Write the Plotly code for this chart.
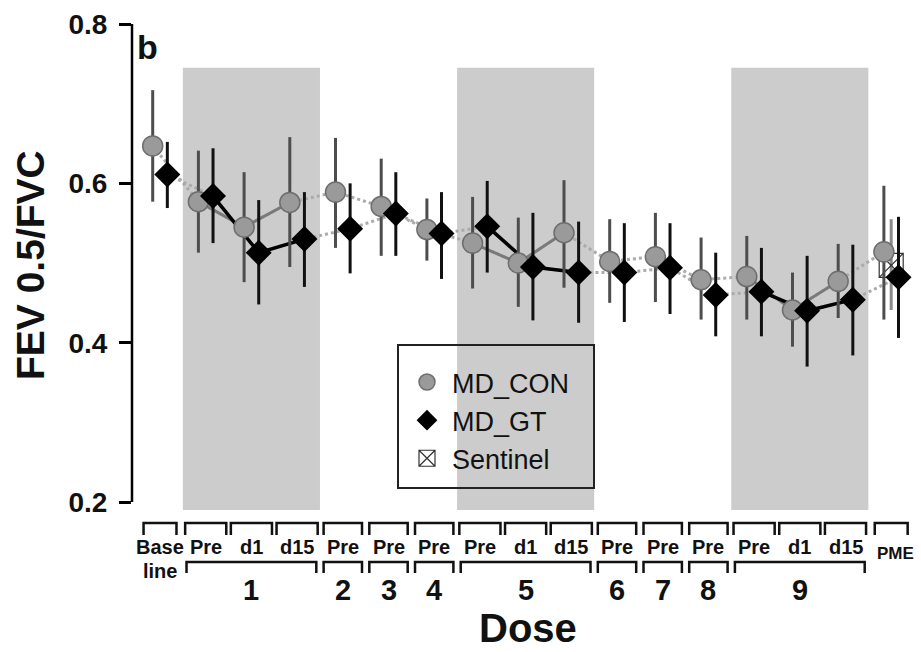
import plotly.graph_objects as go

# ---------------- data ----------------
time_labels = ["Base", "Pre", "d1", "d15", "Pre", "Pre", "Pre", "Pre", "d1", "d15",
               "Pre", "Pre", "Pre", "Pre", "d1", "d15", "PME"]
dose_labels = ["1", "2", "3", "4", "5", "6", "7", "8", "9"]
dose_start = [1, 4, 5, 6, 7, 10, 11, 12, 13]
dose_end = [3, 4, 5, 6, 9, 10, 11, 12, 15]
shaded_doses = ["1", "5", "9"]

con_mean = [0.647, 0.577, 0.545, 0.576, 0.589, 0.571, 0.542, 0.525, 0.500, 0.538,
            0.502, 0.508, 0.479, 0.483, 0.441, 0.477, 0.514]
con_upper = [0.717, 0.641, 0.614, 0.658, 0.657, 0.631, 0.581, 0.583, 0.557, 0.604,
             0.555, 0.563, 0.532, 0.534, 0.488, 0.524, 0.597]
con_lower = [0.577, 0.513, 0.476, 0.495, 0.519, 0.509, 0.503, 0.468, 0.445, 0.469,
             0.450, 0.451, 0.429, 0.429, 0.395, 0.431, 0.429]

gt_mean = [0.611, 0.584, 0.513, 0.530, 0.543, 0.562, 0.537, 0.546, 0.495, 0.488,
           0.488, 0.494, 0.460, 0.464, 0.440, 0.454, 0.482]
gt_upper = [0.652, 0.644, 0.579, 0.589, 0.600, 0.614, 0.589, 0.603, 0.563, 0.552,
            0.550, 0.550, 0.513, 0.519, 0.509, 0.523, 0.558]
gt_lower = [0.569, 0.525, 0.448, 0.470, 0.487, 0.509, 0.480, 0.488, 0.428, 0.425,
            0.426, 0.436, 0.408, 0.408, 0.370, 0.384, 0.406]

sentinel_index = [16]
sentinel_mean = [0.497]
sentinel_upper = [0.555]
sentinel_lower = [0.441]

# ---------------- layout geometry ----------------
W, H = 921, 652
PL, PR, PT, PB = 132, 921, 24, 510
n = len(time_labels)
XR = [-0.613, 16.652]
YR = [0.19, 0.8]
OFF = 0.16
FONT = "Liberation Sans, Arial, sans-serif"


def xp(px):
    return (px - PL) / (PR - PL)


def yp(py):
    return (PB - py) / (PB - PT)


idx = list(range(n))
x_con = [i - OFF for i in idx]
x_gt = [i + OFF for i in idx]

group_members = [list(range(s, e + 1)) for s, e in zip(dose_start, dose_end)]
multi_groups = [g for g in group_members if len(g) > 1]


def segs(xs, ys):
    ox, oy = [], []
    for g in multi_groups:
        for i in g:
            ox.append(xs[i]); oy.append(ys[i])
        ox.append(None); oy.append(None)
    return ox, oy


fig = go.Figure()

# dotted connectors
fig.add_trace(go.Scatter(x=x_con, y=con_mean, mode="lines", showlegend=False,
                         line=dict(color="#ababab", width=3, dash="dot"), hoverinfo="skip"))
fig.add_trace(go.Scatter(x=x_gt, y=gt_mean, mode="lines", showlegend=False,
                         line=dict(color="#ababab", width=3, dash="dot"), hoverinfo="skip"))
# solid within dose groups
sx, sy = segs(x_con, con_mean)
fig.add_trace(go.Scatter(x=sx, y=sy, mode="lines", showlegend=False,
                         line=dict(color="#7a7a7a", width=3), hoverinfo="skip"))
sx, sy = segs(x_gt, gt_mean)
fig.add_trace(go.Scatter(x=sx, y=sy, mode="lines", showlegend=False,
                         line=dict(color="#000000", width=3.5), hoverinfo="skip"))

# sentinel
fig.add_trace(go.Scatter(
    x=sentinel_index, y=sentinel_mean, mode="markers", name="Sentinel", showlegend=False,
    marker=dict(symbol="square-x-open", size=24, color="#333333", line=dict(width=1.2)),
    error_y=dict(type="data", symmetric=False,
                 array=[u - m for u, m in zip(sentinel_upper, sentinel_mean)],
                 arrayminus=[m - l for m, l in zip(sentinel_mean, sentinel_lower)],
                 color="#8a8a8a", thickness=3, width=0)))

# MD_CON
fig.add_trace(go.Scatter(
    x=x_con, y=con_mean, mode="markers", name="MD_CON", showlegend=False,
    marker=dict(symbol="circle", size=20, color="#9a9a9a", line=dict(color="#6e6e6e", width=1.5)),
    error_y=dict(type="data", symmetric=False,
                 array=[u - m for u, m in zip(con_upper, con_mean)],
                 arrayminus=[m - l for m, l in zip(con_mean, con_lower)],
                 color="#4d4d4d", thickness=3, width=0)))

# MD_GT
fig.add_trace(go.Scatter(
    x=x_gt, y=gt_mean, mode="markers", name="MD_GT", showlegend=False,
    marker=dict(symbol="diamond", size=20, color="#000000", line=dict(color="#000000", width=0)),
    error_y=dict(type="data", symmetric=False,
                 array=[u - m for u, m in zip(gt_upper, gt_mean)],
                 arrayminus=[m - l for m, l in zip(gt_mean, gt_lower)],
                 color="#111111", thickness=3, width=0)))

# legend-only entries
fig.add_trace(go.Scatter(x=[None], y=[None], mode="markers", name="MD_CON",
                         marker=dict(symbol="circle", size=20, color="#9a9a9a",
                                     line=dict(color="#6e6e6e", width=1.5))))
fig.add_trace(go.Scatter(x=[None], y=[None], mode="markers", name="MD_GT",
                         marker=dict(symbol="diamond", size=20, color="#000000")))
fig.add_trace(go.Scatter(x=[None], y=[None], mode="markers", name="Sentinel",
                         marker=dict(symbol="square-x-open", size=16, color="#333333",
                                     line=dict(width=1.2))))

shapes = []
annotations = []

# shaded dose periods
for lab, s, e in zip(dose_labels, dose_start, dose_end):
    if lab in shaded_doses:
        shapes.append(dict(type="rect", xref="x", yref="y", x0=s - 0.5, x1=e + 0.5,
                           y0=YR[0], y1=0.745, fillcolor="#cccccc", line=dict(width=0),
                           layer="below"))

# y axis line (spans tick range only)
shapes.append(dict(type="line", xref="paper", yref="y", x0=0, x1=0, y0=0.2, y1=0.8,
                   line=dict(color="#000000", width=2.5)))

# legend frame
shapes.append(dict(type="rect", xref="paper", yref="paper", x0=xp(398), x1=xp(594),
                   y0=yp(488), y1=yp(345), line=dict(color="#222222", width=2),
                   fillcolor="rgba(0,0,0,0)"))

# row-1 brackets and labels
r1_top, r1_leg = yp(523), yp(535)
for i, lab in enumerate(time_labels):
    g = next((gg for gg in group_members if i in gg), [i])
    hw = 0.36 if (i == 0 or i == n - 1) else (0.45 if len(g) > 1 else 0.42)
    shapes.append(dict(type="path", xref="x", yref="paper",
                       path=f"M {i - hw},{r1_leg} L {i - hw},{r1_top} L {i + hw},{r1_top} L {i + hw},{r1_leg}",
                       line=dict(color="#111111", width=2.5)))
    if lab == "Base":
        annotations.append(dict(x=i, y=yp(547), xref="x", yref="paper", text="<b>Base</b>",
                                showarrow=False, font=dict(size=20, family=FONT, color="#111111"),
                                xanchor="center", yanchor="middle"))
        annotations.append(dict(x=i, y=yp(571), xref="x", yref="paper", text="<b>line</b>",
                                showarrow=False, font=dict(size=20, family=FONT, color="#111111"),
                                xanchor="center", yanchor="middle"))
    elif lab == "PME":
        annotations.append(dict(x=i + 0.1, y=yp(553), xref="x", yref="paper", text="<b>PME</b>",
                                showarrow=False, font=dict(size=17, family=FONT, color="#111111"),
                                xanchor="center", yanchor="middle"))
    else:
        annotations.append(dict(x=i, y=yp(547), xref="x", yref="paper", text=f"<b>{lab}</b>",
                                showarrow=False, font=dict(size=20, family=FONT, color="#111111"),
                                xanchor="center", yanchor="middle"))

# row-2 brackets (doses) and labels
r2_top, r2_leg = yp(562), yp(573)
for lab, s, e in zip(dose_labels, dose_start, dose_end):
    x0, x1 = s - 0.42, e + 0.42
    shapes.append(dict(type="path", xref="x", yref="paper",
                       path=f"M {x0},{r2_leg} L {x0},{r2_top} L {x1},{r2_top} L {x1},{r2_leg}",
                       line=dict(color="#111111", width=2.5)))
    annotations.append(dict(x=(s + e) / 2, y=yp(590), xref="x", yref="paper", text=f"<b>{lab}</b>",
                            showarrow=False, font=dict(size=29, family=FONT, color="#111111"),
                            xanchor="center", yanchor="middle"))

# axis titles and panel letter
annotations.append(dict(x=xp(528), y=yp(628), xref="paper", yref="paper", text="<b>Dose</b>",
                        showarrow=False, font=dict(size=40, family=FONT, color="#111111"),
                        xanchor="center", yanchor="middle"))
annotations.append(dict(x=xp(30), y=yp(265), xref="paper", yref="paper", text="<b>FEV 0.5/FVC</b>",
                        showarrow=False, textangle=-90,
                        font=dict(size=39, family=FONT, color="#111111"),
                        xanchor="center", yanchor="middle"))
annotations.append(dict(x=xp(147), y=yp(47), xref="paper", yref="paper", text="<b>b</b>",
                        showarrow=False, font=dict(size=34, family=FONT, color="#111111"),
                        xanchor="center", yanchor="middle"))

fig.update_layout(
    width=W, height=H,
    margin=dict(l=PL, r=W - PR, t=PT, b=H - PB, pad=0),
    paper_bgcolor="white", plot_bgcolor="white",
    font=dict(family=FONT, color="#111111"),
    xaxis=dict(range=XR, showgrid=False, zeroline=False, showline=False,
               showticklabels=False, ticks=""),
    yaxis=dict(range=YR, showgrid=False, zeroline=False, showline=False,
               tickmode="array", tickvals=[0.2, 0.4, 0.6, 0.8],
               ticktext=["0.2", "0.4", "0.6", "0.8"],
               ticks="outside", ticklen=12, tickwidth=2.5, tickcolor="#000000",
               ticklabelstandoff=6,
               tickfont=dict(size=28, family=FONT, color="#111111", weight="bold")),
    legend=dict(x=xp(402), y=yp(358), xanchor="left", yanchor="top",
                bgcolor="rgba(0,0,0,0)", borderwidth=0,
                font=dict(size=27, family=FONT, color="#111111"),
                itemsizing="trace", itemwidth=40, tracegroupgap=0),
    shapes=shapes, annotations=annotations,
    showlegend=True,
)

fig.write_html("out.html", config={"displayModeBar": False},
               post_script="document.body.style.margin='0px';")
